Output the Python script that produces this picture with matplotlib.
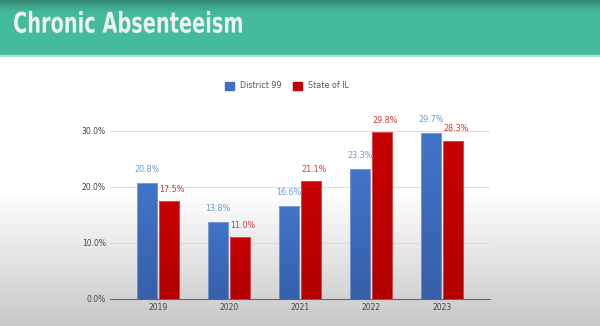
import numpy as np
import matplotlib
matplotlib.use("Agg")
import matplotlib.pyplot as plt
from matplotlib.textpath import TextPath
from matplotlib.font_manager import FontProperties
from matplotlib.patches import PathPatch, Patch
from matplotlib.transforms import Affine2D
from matplotlib.colors import LinearSegmentedColormap

years = ["2019", "2020", "2021", "2022", "2023"]
district = [20.8, 13.8, 16.6, 23.3, 29.7]
state = [17.5, 11.0, 21.1, 29.8, 28.3]
yticks = [0, 10, 20, 30]
title = "Chronic Absenteeism"
series_names = ["District 99", "State of IL"]

W, H = 600, 326
fig = plt.figure(figsize=(W / 100, H / 100), dpi=100)

# background (pixel coordinates)
bg = fig.add_axes([0, 0, 1, 1])
bg.set_axis_off()
rows = np.arange(H)
vals = np.where(rows < 190, 1.0, 1.0 - (rows - 190) / (H - 190) * 0.22)
img = np.repeat(vals[:, None], 2, axis=1)
bg.imshow(img, cmap="gray", vmin=0, vmax=1, aspect="auto", extent=[0, W, H, 0], zorder=0)
hdr_cmap = LinearSegmentedColormap.from_list("hdr", ["#33876f", "#3fa88c", "#44b89c", "#45bb9e"])
hrows = np.clip(np.arange(55) / 18.0, 0, 1)
bg.imshow(np.repeat(hrows[:, None], 2, axis=1), cmap=hdr_cmap, vmin=0, vmax=1,
          aspect="auto", extent=[0, W, 55, 0], zorder=1)
bg.add_patch(plt.Rectangle((0, 55), W, 1.2, color="#b5e3d5", zorder=2))
bg.set_xlim(0, W)
bg.set_ylim(H, 0)

# condensed title via scaled text path
tp = TextPath((0, 0), title, size=10, prop=FontProperties(family="DejaVu Sans", weight="semibold"))
ext = tp.get_extents()
tx0, tx1, ty0, ty1 = 14, 242, 11, 33
sx = (tx1 - tx0) / ext.width
sy = (ty1 - ty0) / ext.height
tr = Affine2D().translate(-ext.x0, -ext.y0).scale(sx, -sy).translate(tx0, ty1)
bg.add_patch(PathPatch(tr.transform_path(tp), facecolor="#eef1ef", edgecolor="none", zorder=3))

# main axes
x0, x1 = 110, 490
ybot, ytop = 299, 120
ax = fig.add_axes([x0 / W, 1 - ybot / H, (x1 - x0) / W, (ybot - ytop) / H])
ax.patch.set_alpha(0)
ppu = (299 - 131) / 30.0
ymax = (ybot - ytop) / ppu

idx = np.arange(len(years))
bw = 0.29
off = 0.155
c_blue, c_red = "#3f6fc2", "#c00000"
cm_blue = LinearSegmentedColormap.from_list("b", ["#3660aa", "#4274c8"])
cm_red = LinearSegmentedColormap.from_list("r", ["#b20000", "#c80202"])
grad = np.linspace(0, 1, 64)[::-1][:, None]


def grad_bars(bars, cmap):
    for b in bars:
        b.set_facecolor("none")
        b.set_edgecolor((1, 1, 1, 0.35))
        b.set_linewidth(0.6)
        im = ax.imshow(grad, cmap=cmap, vmin=0, vmax=1, aspect="auto",
                       extent=[b.get_x(), b.get_x() + b.get_width(), 0, b.get_height()],
                       zorder=3)
        im.set_clip_path(b)


bars1 = ax.bar(idx - off, district, bw, color=c_blue, zorder=4)
bars2 = ax.bar(idx + off, state, bw, color=c_red, zorder=4)
grad_bars(bars1, cm_blue)
grad_bars(bars2, cm_red)
ax.set_xlim(-0.676, 4.676)
ax.set_ylim(0, ymax)

for i in idx:
    ax.text(i - off, district[i] + 1.6, f"{district[i]:.1f}%", ha="center", va="bottom",
            fontsize=5.8, color="#7096d8")
    ax.text(i + off + 0.04, state[i] + 1.3, f"{state[i]:.1f}%", ha="center", va="bottom",
            fontsize=5.8, color="#d03a3a")

ax.set_yticks(yticks)
ax.set_yticklabels([f"{v:.1f}%" for v in yticks], fontsize=5.5, color="#444444")
ax.set_xticks(idx)
ax.set_xticklabels(years, fontsize=5.5, color="#444444")
ax.tick_params(length=0, pad=3)
ax.grid(axis="y", color="#dcdcdc", linewidth=0.8, zorder=0)
for s in ["top", "right", "left"]:
    ax.spines[s].set_visible(False)
ax.spines["bottom"].set_color("#666666")
ax.spines["bottom"].set_linewidth(0.8)

# legend
leg = fig.legend(handles=[Patch(color=c_blue), Patch(color=c_red)], labels=series_names,
                 loc="center", bbox_to_anchor=(287 / W, 1 - 86 / H), ncol=2, frameon=False,
                 fontsize=5.8, handlelength=1.1, handleheight=1.1, columnspacing=1.4,
                 handletextpad=0.8)
for t in leg.get_texts():
    t.set_color("#555555")

fig.savefig("out.png", dpi=100)
